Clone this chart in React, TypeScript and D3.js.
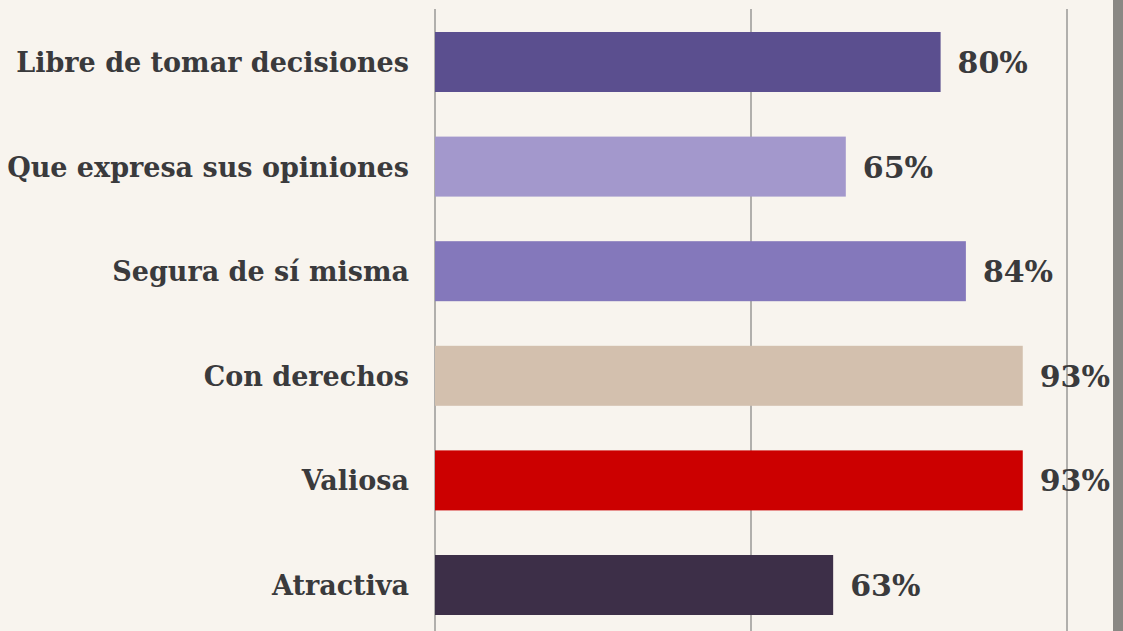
import React, { useEffect, useRef } from "react";
import * as d3 from "d3";

const categories = [
  "Libre de tomar decisiones",
  "Que expresa sus opiniones",
  "Segura de sí misma",
  "Con derechos",
  "Valiosa",
  "Atractiva",
];
const values = [80, 65, 84, 93, 93, 63];
const colors = ["#5b4f8f", "#a398cc", "#8478bb", "#d3c0ae", "#cc0000", "#3d2f48"];
const gridTicks = [0, 50, 100];

const W = 1123;
const H = 631;
const FONT = "'DejaVu Serif', serif";

export default function App() {
  const ref = useRef<SVGSVGElement>(null);
  useEffect(() => {
    const svg = d3.select(ref.current);
    svg.selectAll("*").remove();
    const x = d3.scaleLinear().domain([0, 100]).range([435, 1067]);
    const y = d3.scalePoint<string>().domain(categories).range([62, 585]);
    const barH = 60;

    svg.append("rect").attr("width", W).attr("height", H).attr("fill", "#f8f4ee");
    svg.append("rect").attr("x", 1113).attr("y", 0).attr("width", 10).attr("height", H).attr("fill", "#8a8884");

    svg.selectAll("line.grid").data(gridTicks).enter().append("line")
      .attr("x1", (d) => x(d)).attr("x2", (d) => x(d))
      .attr("y1", 9).attr("y2", H)
      .attr("stroke", "#9a9896").attr("stroke-width", 1.5);

    svg.selectAll("rect.bar").data(values).enter().append("rect")
      .attr("x", x(0))
      .attr("y", (d, i) => (y(categories[i]) as number) - barH / 2)
      .attr("width", (d) => x(d) - x(0))
      .attr("height", barH)
      .attr("fill", (d, i) => colors[i]);

    svg.selectAll("text.cat").data(categories).enter().append("text")
      .attr("x", 409)
      .attr("y", (d) => (y(d) as number) + 10)
      .attr("text-anchor", "end")
      .attr("font-family", FONT)
      .attr("font-weight", "bold")
      .attr("font-size", 27)
      .attr("fill", "#3a3a3c")
      .text((d) => d);

    svg.selectAll("text.val").data(values).enter().append("text")
      .attr("x", (d) => x(d) + 17)
      .attr("y", (d, i) => (y(categories[i]) as number) + 11)
      .attr("font-family", FONT)
      .attr("font-weight", "bold")
      .attr("font-size", 30)
      .attr("fill", "#3a3a3c")
      .text((d) => `${d}%`);
  }, []);
  return (
    <svg ref={ref} width={W} height={H} style={{ position: "absolute", left: 0, top: 0 }} />
  );
}
